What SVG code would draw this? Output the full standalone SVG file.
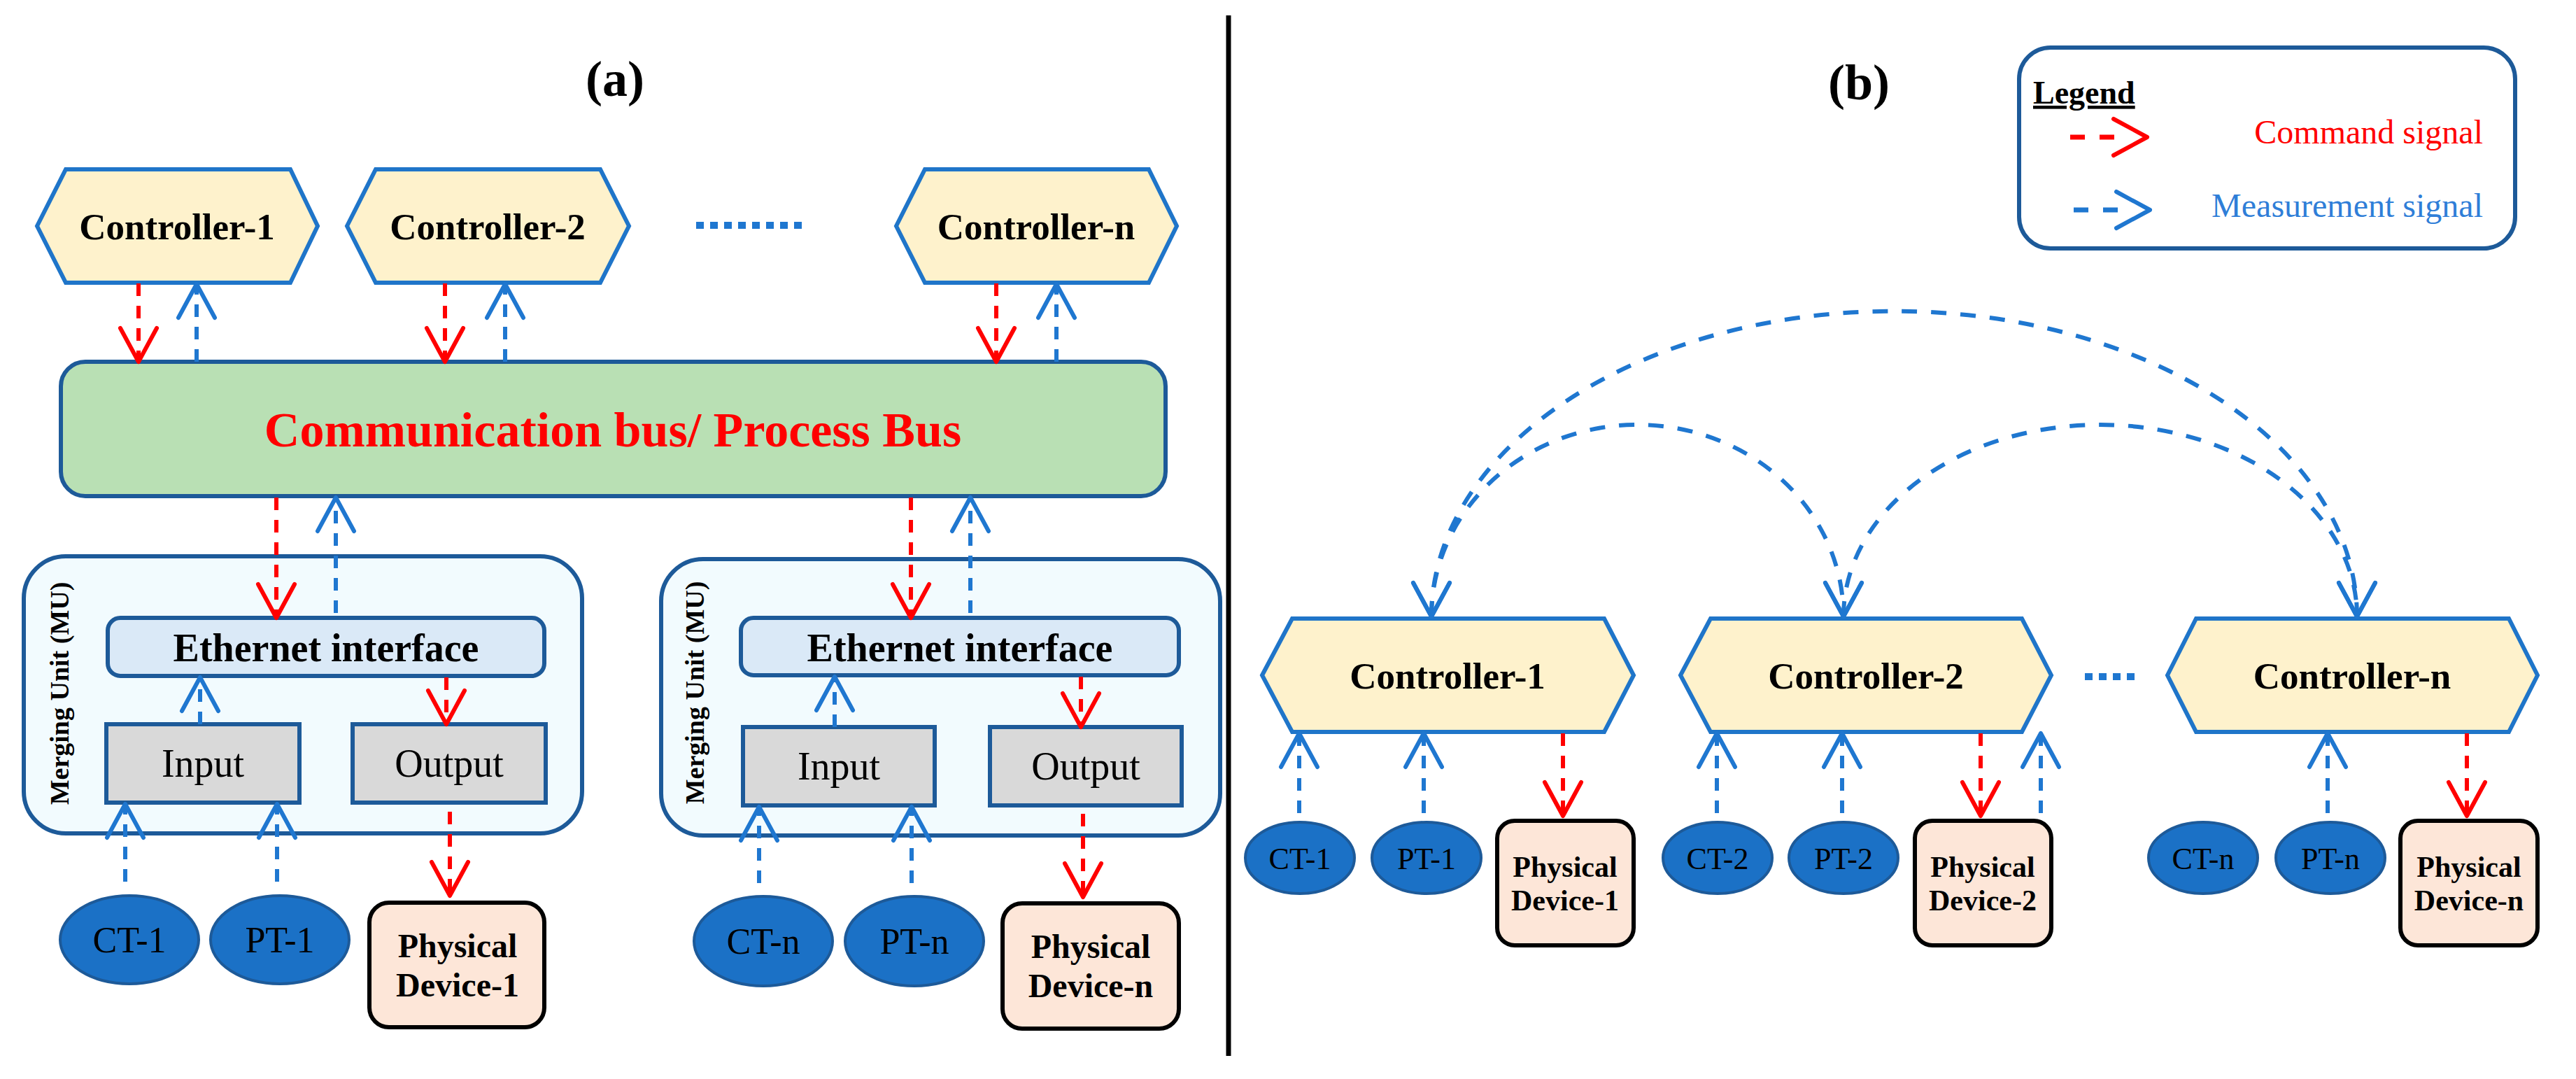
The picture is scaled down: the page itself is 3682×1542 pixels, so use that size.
<svg xmlns="http://www.w3.org/2000/svg" width="3682" height="1542" viewBox="0 0 3682 1542">
<defs>
<style>
text{font-family:"Liberation Serif","Times New Roman",serif;fill:#000}
.b{font-weight:bold}
.hex{fill:#fef2cc;stroke:#1f75c9;stroke-width:6}
.ctl{font-size:53px;font-weight:bold;text-anchor:middle}
.box{stroke:#1d5a99;stroke-width:6}
.ell{fill:#1b71c6;stroke:#1d5a99;stroke-width:4}
.et{font-size:52px;text-anchor:middle}
.etb{font-size:44px;text-anchor:middle}
.pd{fill:#fde6d8;stroke:#000;stroke-width:6}
.pdt{font-size:48px;font-weight:bold;text-anchor:middle}
.pdtb{font-size:42px;font-weight:bold;text-anchor:middle}
.cmd{fill:none;stroke:#ff0000;stroke-width:6;stroke-dasharray:18 14;marker-end:url(#ar)}
.mea{fill:none;stroke:#1f77d0;stroke-width:6;stroke-dasharray:18 14;marker-end:url(#ab)}
.arc{fill:none;stroke:#1f77d0;stroke-width:6;stroke-dasharray:22 20;marker-start:url(#ab);marker-end:url(#ab)}
.dots{fill:none;stroke:#1f77d0;stroke-width:10;stroke-dasharray:11 9}
</style>
<marker id="ar" markerUnits="userSpaceOnUse" markerWidth="70" markerHeight="70" viewBox="-60 -35 70 70" refX="0" refY="0" orient="auto-start-reverse" overflow="visible">
<path d="M-48,-26 L0,0 L-48,26" fill="none" stroke="#ff0000" stroke-width="6" stroke-linecap="round" stroke-linejoin="round"/>
</marker>
<marker id="ab" markerUnits="userSpaceOnUse" markerWidth="70" markerHeight="70" viewBox="-60 -35 70 70" refX="0" refY="0" orient="auto-start-reverse" overflow="visible">
<path d="M-48,-26 L0,0 L-48,26" fill="none" stroke="#1f77d0" stroke-width="6" stroke-linecap="round" stroke-linejoin="round"/>
</marker>
</defs>
<rect width="3682" height="1542" fill="#fff"/>

<!-- Panel labels -->
<text x="879" y="137" class="b" font-size="72" text-anchor="middle">(a)</text>
<text x="2657" y="142" class="b" font-size="72" text-anchor="middle">(b)</text>
<line x1="1756" y1="22" x2="1756" y2="1509" stroke="#000" stroke-width="7"/>

<!-- ========== Panel (a) ========== -->
<g id="a-controller-1"><polygon class="hex" points="53,323 94,242 415,242 454,323 415,404 94,404"/><text class="ctl" x="253" y="342">Controller-1</text></g>
<g id="a-controller-2"><polygon class="hex" points="496,323 537,242 858,242 899,323 858,404 537,404"/><text class="ctl" x="697" y="342">Controller-2</text></g>
<g id="a-controller-n"><polygon class="hex" points="1281,323 1322,242 1642,242 1682,323 1642,404 1322,404"/><text class="ctl" x="1481" y="342">Controller-n</text></g>
<g id="a-dots"><line class="dots" x1="995" y1="322" x2="1152" y2="322"/></g>

<g id="a-bus"><rect x="87" y="517" width="1579" height="192" rx="35" fill="#b9e0b4" class="box"/><text x="876" y="638" class="b" font-size="70" text-anchor="middle" style="fill:#ff0000">Communication bus/ Process Bus</text></g>

<g id="a-mu-1">
<rect x="34" y="795" width="798" height="396" rx="60" fill="#f2fbfe" class="box"/>
<text transform="translate(98,991) rotate(-90)" class="b" font-size="38" text-anchor="middle">Merging Unit (MU)</text>
</g>
<g id="a-eth-1"><rect x="154" y="883" width="624" height="83" rx="18" fill="#dae9f7" class="box"/><text x="466" y="945" class="b" font-size="56" text-anchor="middle">Ethernet interface</text></g>
<g id="a-input-1"><rect x="152" y="1035" width="276" height="112" fill="#d9d9d9" class="box"/><text x="290" y="1110" font-size="56" text-anchor="middle">Input</text></g>
<g id="a-output-1"><rect x="504" y="1035" width="276" height="112" fill="#d9d9d9" class="box"/><text x="642" y="1110" font-size="56" text-anchor="middle">Output</text></g>
<g id="a-ct-1"><ellipse class="ell" cx="185" cy="1343" rx="99" ry="63"/><text class="et" x="185" y="1361">CT-1</text></g>
<g id="a-pt-1"><ellipse class="ell" cx="400" cy="1343" rx="99" ry="63"/><text class="et" x="400" y="1361">PT-1</text></g>
<g id="a-pd-1"><rect class="pd" x="528" y="1290" width="250" height="178" rx="28"/><text class="pdt" x="654" y="1368">Physical</text><text class="pdt" x="654" y="1424">Device-1</text></g>

<g id="a-mu-n">
<rect x="945" y="799" width="799" height="395" rx="60" fill="#f2fbfe" class="box"/>
<text transform="translate(1006,990) rotate(-90)" class="b" font-size="38" text-anchor="middle">Merging Unit (MU)</text>
</g>
<g id="a-eth-n"><rect x="1059" y="883" width="626" height="82" rx="18" fill="#dae9f7" class="box"/><text x="1372" y="945" class="b" font-size="56" text-anchor="middle">Ethernet interface</text></g>
<g id="a-input-n"><rect x="1062" y="1039" width="274" height="112" fill="#d9d9d9" class="box"/><text x="1199" y="1114" font-size="56" text-anchor="middle">Input</text></g>
<g id="a-output-n"><rect x="1415" y="1039" width="274" height="112" fill="#d9d9d9" class="box"/><text x="1552" y="1114" font-size="56" text-anchor="middle">Output</text></g>
<g id="a-ct-n"><ellipse class="ell" cx="1091" cy="1345" rx="99" ry="64"/><text class="et" x="1091" y="1363">CT-n</text></g>
<g id="a-pt-n"><ellipse class="ell" cx="1307" cy="1345" rx="99" ry="64"/><text class="et" x="1307" y="1363">PT-n</text></g>
<g id="a-pd-n"><rect class="pd" x="1433" y="1291" width="252" height="179" rx="28"/><text class="pdt" x="1559" y="1369">Physical</text><text class="pdt" x="1559" y="1425">Device-n</text></g>

<!-- ========== Panel (b) ========== -->
<g id="legend">
<rect x="2886" y="68" width="709" height="287" rx="45" fill="#fff" class="box"/>
<text x="2906" y="148" class="b" font-size="46" text-decoration="underline">Legend</text>
<path d="M2959,196 L3069,196" fill="none" stroke="#ff0000" stroke-width="7" stroke-dasharray="21 21 21 47" marker-end="url(#ar)"/>
<text x="3549" y="205" font-size="48" text-anchor="end" style="fill:#ff0000">Command signal</text>
<path d="M2964,300 L3073,300" fill="none" stroke="#1f77d0" stroke-width="7" stroke-dasharray="21 21 21 46" marker-end="url(#ab)"/>
<text x="3549" y="310" font-size="48" text-anchor="end" style="fill:#2f7ed8">Measurement signal</text>
</g>

<g id="b-controller-1"><polygon class="hex" points="1804,965 1847,884 2293,884 2335,965 2293,1046 1847,1046"/><text class="ctl" x="2069" y="984">Controller-1</text></g>
<g id="b-controller-2"><polygon class="hex" points="2402,965 2445,884 2890,884 2932,965 2890,1046 2445,1046"/><text class="ctl" x="2667" y="984">Controller-2</text></g>
<g id="b-controller-n"><polygon class="hex" points="3098,965 3139,884 3586,884 3627,965 3586,1046 3139,1046"/><text class="ctl" x="3362" y="984">Controller-n</text></g>
<g id="b-dots"><line class="dots" x1="2980" y1="967" x2="3056" y2="967"/></g>

<g id="b-ct-1"><ellipse class="ell" cx="1858" cy="1226" rx="78" ry="51"/><text class="etb" x="1858" y="1242">CT-1</text></g>
<g id="b-pt-1"><ellipse class="ell" cx="2039" cy="1226" rx="78" ry="51"/><text class="etb" x="2039" y="1242">PT-1</text></g>
<g id="b-pd-1"><rect class="pd" x="2140" y="1173" width="195" height="178" rx="25"/><text class="pdtb" x="2237" y="1253">Physical</text><text class="pdtb" x="2237" y="1301">Device-1</text></g>
<g id="b-ct-2"><ellipse class="ell" cx="2455" cy="1226" rx="78" ry="51"/><text class="etb" x="2455" y="1242">CT-2</text></g>
<g id="b-pt-2"><ellipse class="ell" cx="2635" cy="1226" rx="78" ry="51"/><text class="etb" x="2635" y="1242">PT-2</text></g>
<g id="b-pd-2"><rect class="pd" x="2737" y="1173" width="195" height="178" rx="25"/><text class="pdtb" x="2834" y="1253">Physical</text><text class="pdtb" x="2834" y="1301">Device-2</text></g>
<g id="b-ct-n"><ellipse class="ell" cx="3149" cy="1226" rx="78" ry="51"/><text class="etb" x="3149" y="1242">CT-n</text></g>
<g id="b-pt-n"><ellipse class="ell" cx="3331" cy="1226" rx="78" ry="51"/><text class="etb" x="3331" y="1242">PT-n</text></g>
<g id="b-pd-n"><rect class="pd" x="3431" y="1173" width="196" height="178" rx="25"/><text class="pdtb" x="3529" y="1253">Physical</text><text class="pdtb" x="3529" y="1301">Device-n</text></g>

<!-- ========== Connectors ========== -->
<g id="connectors">
<path class="cmd" d="M198,405 L198,517"/>
<path class="cmd" d="M636,405 L636,517"/>
<path class="cmd" d="M1424,405 L1424,517"/>
<path class="mea" d="M281,517 L281,406"/>
<path class="mea" d="M722,517 L722,406"/>
<path class="mea" d="M1510,517 L1510,406"/>
<path class="cmd" d="M395,711 L395,883"/>
<path class="cmd" d="M1302,711 L1302,883"/>
<path class="mea" d="M480,876 L480,711"/>
<path class="mea" d="M1387,876 L1387,711"/>
<path class="cmd" d="M638,968 L638,1035"/>
<path class="cmd" d="M1545,967 L1545,1039"/>
<path class="mea" d="M286,1035 L286,968"/>
<path class="mea" d="M1193,1039 L1193,967"/>
<path class="mea" d="M179,1260 L179,1149"/>
<path class="mea" d="M396,1260 L396,1149"/>
<path class="mea" d="M1085,1262 L1085,1153"/>
<path class="mea" d="M1303,1262 L1303,1153"/>
<path class="cmd" d="M643,1160 L643,1280"/>
<path class="cmd" d="M1548,1163 L1548,1282"/>

<path class="cmd" d="M2234,1048 L2234,1166"/>
<path class="cmd" d="M2831,1048 L2831,1166"/>
<path class="cmd" d="M3526,1048 L3526,1166"/>
<path class="mea" d="M1857,1162 L1857,1048"/>
<path class="mea" d="M2035,1162 L2035,1048"/>
<path class="mea" d="M2454,1162 L2454,1048"/>
<path class="mea" d="M2633,1162 L2633,1048"/>
<path class="mea" d="M2917,1162 L2917,1048"/>
<path class="mea" d="M3327,1162 L3327,1048"/>

<path class="arc" d="M2046,881 A661,436 0 0 1 3369,881"/>
<path class="arc" d="M2046,881 A294.5,274 0 0 1 2635,881"/>
<path class="arc" d="M2635,881 A367,274 0 0 1 3369,881"/>
</g>
</svg>
